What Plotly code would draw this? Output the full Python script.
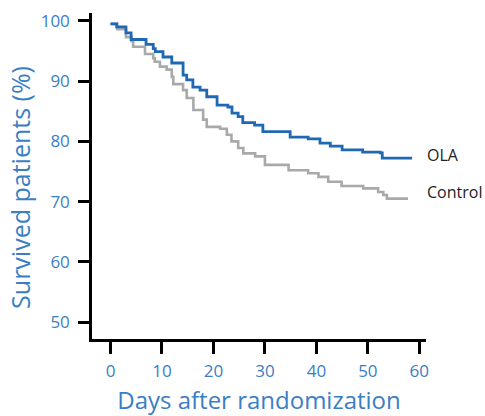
import plotly.graph_objects as go

series_names = ["OLA", "Control"]

ola_days = [0, 1.2, 3.0, 4.0, 6.9, 8.3, 8.7, 10.2, 11.9, 14.1, 14.8, 16.0, 17.4, 18.7,
            20.7, 22.8, 23.6, 24.8, 25.7, 28.0, 29.6, 34.9, 38.4, 40.7, 42.7, 45.0,
            49.0, 52.4, 52.8, 58.6]
ola_surv = [99.5, 99.0, 98.0, 96.9, 96.1, 95.4, 94.9, 94.0, 93.0, 91.0, 90.2, 89.0, 88.5, 87.4,
            86.0, 85.7, 84.7, 84.1, 83.1, 82.7, 81.6, 80.7, 80.4, 79.7, 79.2, 78.6,
            78.2, 78.1, 77.2, 77.2]

ctrl_days = [0, 1.3, 3.0, 4.1, 4.4, 6.7, 8.3, 8.6, 9.6, 10.9, 11.9, 12.2, 14.1, 14.8, 16.1,
             18.0, 18.7, 21.3, 22.6, 23.5, 24.8, 25.8, 28.1, 30.0, 34.6, 38.4, 40.4,
             42.3, 44.9, 49.1, 52.0, 53.0, 53.7, 57.8]
ctrl_surv = [99.5, 98.6, 97.3, 96.6, 95.7, 94.5, 93.8, 93.2, 92.4, 91.9, 90.7, 89.5, 88.5, 87.2, 85.2,
             83.6, 82.4, 82.1, 81.1, 80.0, 78.9, 78.0, 77.5, 76.1, 75.2, 74.7, 74.1,
             73.3, 72.6, 72.2, 71.6, 71.1, 70.5, 70.5]

x_ticks = [0, 10, 20, 30, 40, 50, 60]
y_ticks = [50, 60, 70, 80, 90, 100]

x_title = "Days after randomization"
y_title = "Survived patients (%)"

BLUE_TEXT = "#3a7ec4"
FONT = "Open Sans"

fig = go.Figure()
fig.add_trace(go.Scatter(x=ctrl_days, y=ctrl_surv, mode="lines", line_shape="hv",
                         line=dict(color="#a8a9ab", width=2.6), name=series_names[1]))
fig.add_trace(go.Scatter(x=ola_days, y=ola_surv, mode="lines", line_shape="hv",
                         line=dict(color="#1f68b3", width=2.8), name=series_names[0]))

fig.add_annotation(x=0.997, xref="paper", y=ola_surv[-1] + 0.5, yref="y", text=series_names[0],
                   showarrow=False, xanchor="left", yanchor="middle",
                   font=dict(family=FONT, size=16, color="#222222"))
fig.add_annotation(x=0.997, xref="paper", y=ctrl_surv[-1] + 1.1, yref="y", text=series_names[1],
                   showarrow=False, xanchor="left", yanchor="middle",
                   font=dict(family=FONT, size=16, color="#222222"))

# y-axis title as rotated annotation (placed slightly below the axis centre, as in the reference)
fig.add_annotation(x=-0.273, xref="paper", y=0.466, yref="paper", text=y_title,
                   textangle=-90, showarrow=False, xanchor="left", yanchor="middle",
                   font=dict(family=FONT, size=25, color=BLUE_TEXT))

fig.update_layout(
    width=485, height=416,
    margin=dict(l=92, r=59, t=13, b=77),
    plot_bgcolor="white", paper_bgcolor="white",
    showlegend=False,
    font=dict(family=FONT),
    xaxis=dict(range=[-3.6, 61.3], tickvals=x_ticks, showgrid=False, zeroline=False,
               showline=True, linecolor="black", linewidth=2.5, automargin=False,
               ticks="outside", ticklen=12, tickwidth=2.5, tickcolor="black",
               tickfont=dict(family=FONT, size=17, color=BLUE_TEXT),
               ticklabelstandoff=3,
               title=dict(text=x_title, standoff=17,
                          font=dict(family=FONT, size=24, color=BLUE_TEXT))),
    yaxis=dict(range=[47.2, 101.3], tickvals=y_ticks, showgrid=False, zeroline=False,
               showline=True, linecolor="black", linewidth=2.5, automargin=False,
               ticks="outside", ticklen=11, tickwidth=2.5, tickcolor="black",
               tickfont=dict(family=FONT, size=17, color=BLUE_TEXT),
               ticklabelstandoff=5),
)

fig.write_html("out.html")
